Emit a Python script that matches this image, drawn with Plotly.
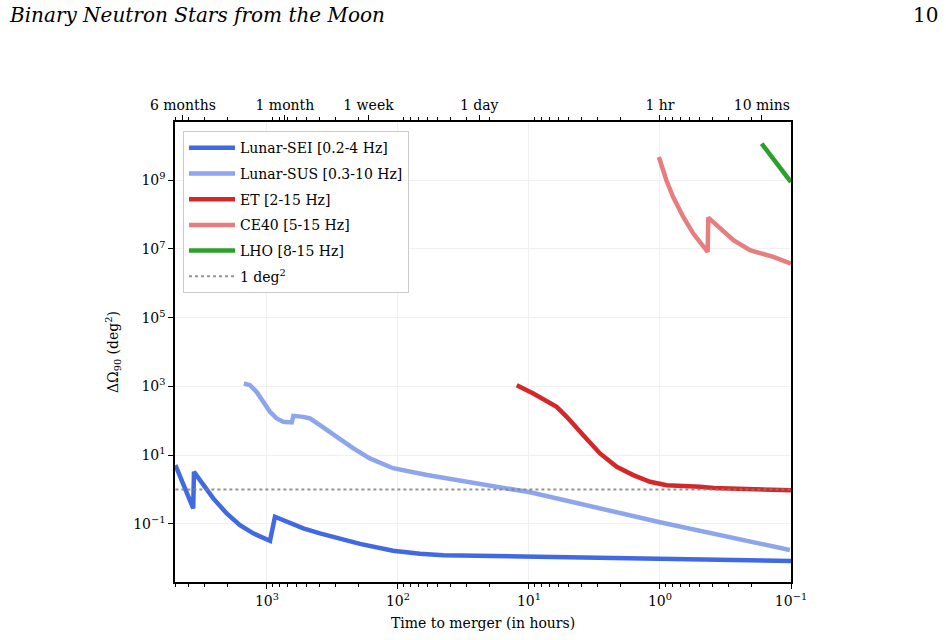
import plotly.graph_objects as go

# ---- data (time to merger in hours, sky area in deg^2) ----
sei_t = [5000, 4355, 3656, 3608, 3062, 2570, 2031, 1607, 1273, 948, 869, 708, 528, 394, 294,
         195, 109, 68, 45, 1, 0.1]
sei_a = [5.12, 1.34, 0.283, 3.27, 1.34, 0.551, 0.202, 0.0923, 0.053, 0.0323, 0.161, 0.115, 0.074,
         0.053, 0.0394, 0.0263, 0.0166, 0.0135, 0.0123, 0.0093, 0.0083]

sus_t = [1500, 1349, 1199, 1067, 948, 843, 751, 647, 629, 528, 470, 394, 294, 219, 164, 109,
         60, 33.6, 14, 9.8, 1, 0.102]
sus_a = [1213, 1084, 692, 354, 181.5, 116.7, 92.9, 89.3, 138.7, 129.7, 116.7, 74.5, 34.0, 15.7,
         8.02, 4.17, 2.63, 1.86, 1.10, 0.83, 0.112, 0.0174]

et_t = [12.4, 9.27, 6.15, 5.15, 3.85, 2.87, 2.14, 1.60, 1.19, 0.889, 0.495, 0.39, 0.22, 0.1]
et_a = [1084, 622, 254, 130, 38.1, 11.2, 4.57, 2.63, 1.68, 1.34, 1.20, 1.10, 1.03, 0.96]

ce_t = [1.02, 0.894, 0.793, 0.664, 0.557, 0.467, 0.4325, 0.428, 0.348, 0.275, 0.2055, 0.1365, 0.1]
ce_a = [4.70e9, 9.86e8, 3.23e8, 8.45e7, 2.79e7, 1.27e7, 8.13e6, 8.13e7, 3.89e7, 1.78e7, 9.1e6,
        5.82e6, 3.74e6]

lho_t = [0.1675, 0.130, 0.1]
lho_a = [1.15e10, 3.23e9, 8.8e8]

ref_t = [5000, 0.1]
ref_a = [1, 1]

bottom_tickvals = [1000, 100, 10, 1, 0.1]
bottom_ticktext = ["10<sup>3</sup>", "10<sup>2</sup>", "10<sup>1</sup>", "10<sup>0</sup>", "10<sup>\u22121</sup>"]
y_tickvals = [0.1, 10, 1e3, 1e5, 1e7, 1e9]
y_ticktext = ["10<sup>\u22121</sup>", "10<sup>1</sup>", "10<sup>3</sup>", "10<sup>5</sup>", "10<sup>7</sup>", "10<sup>9</sup>"]
top_tickvals = [4380, 730, 168, 24, 1, 1 / 6]
top_ticktext = ["6 months", "1 month", "1 week", "1 day", "1 hr", "10 mins"]

minor_vals = [m * 10 ** e for e in range(-1, 4) for m in range(2, 10) if m * 10 ** e <= 5000]

FONT = "DejaVu Serif"

fig = go.Figure()
series = [
    (sei_t, sei_a, "Lunar-SEI [0.2-4 Hz]", "#4169E1"),
    (sus_t, sus_a, "Lunar-SUS [0.3-10 Hz]", "#8DA5ED"),
    (et_t, et_a, "ET [2-15 Hz]", "#D62728"),
    (ce_t, ce_a, "CE40 [5-15 Hz]", "#E67D7E"),
    (lho_t, lho_a, "LHO [8-15 Hz]", "#2CA02C"),
]
for t, a, name, col in series:
    fig.add_trace(go.Scatter(x=t, y=a, mode="lines", name=name, legendgroup=name,
                             line=dict(color=col, width=4.5)))
fig.add_trace(go.Scatter(x=ref_t, y=ref_a, mode="lines", name="1 deg<sup>2</sup>", legendgroup="ref",
                         line=dict(color="rgba(128,128,128,0.85)", width=2, dash="dot")))
# dummy trace to bind the top axis
fig.add_trace(go.Scatter(x=ref_t, y=ref_a, xaxis="x2", mode="lines", opacity=0,
                         showlegend=False, hoverinfo="skip"))

fig.update_layout(
    width=946, height=640,
    margin=dict(l=175, r=155, t=122, b=58),
    paper_bgcolor="white", plot_bgcolor="white",
    font=dict(family=FONT, size=14, color="black"),
    showlegend=True,
    legend=dict(x=0.013, y=0.98, xanchor="left", yanchor="top",
                bgcolor="white", bordercolor="#cccccc", borderwidth=1,
                font=dict(family=FONT, size=14), itemwidth=46, tracegroupgap=4.5),
    xaxis=dict(type="log", range=[3.702, -1], showline=True, linecolor="black", linewidth=1.5,
               mirror=False, ticks="outside", ticklen=5, tickwidth=1, tickcolor="black",
               tickmode="array", tickvals=bottom_tickvals, ticktext=bottom_ticktext,
               showgrid=True, gridcolor="#f0f0f0", gridwidth=1, zeroline=False,
               minor=dict(ticks="outside", ticklen=3, tickcolor="black", tickmode="array",
                          tickvals=minor_vals, showgrid=False)),
    xaxis2=dict(type="log", range=[3.702, -1], overlaying="x", side="top", anchor="y",
                showline=True, linecolor="black", linewidth=1.5,
                ticks="outside", ticklen=5, tickcolor="black",
                tickmode="array", tickvals=top_tickvals, ticktext=top_ticktext,
                showgrid=False, zeroline=False,
                minor=dict(ticks="outside", ticklen=3, tickcolor="black", tickmode="array",
                           tickvals=minor_vals, showgrid=False)),
    yaxis=dict(type="log", range=[-2.69, 10.69], showline=True, linecolor="black", linewidth=1.5,
               mirror=True, ticks="outside", ticklen=5, tickcolor="black",
               tickmode="array", tickvals=y_tickvals, ticktext=y_ticktext,
               showgrid=True, gridcolor="#f0f0f0", gridwidth=1, zeroline=False),
    annotations=[
        dict(text="<i>Binary Neutron Stars from the Moon</i>", xref="paper", yref="paper",
             x=-0.2727, y=1.2326, xanchor="left", yanchor="middle", showarrow=False,
             font=dict(family=FONT, size=20)),
        dict(text="10", xref="paper", yref="paper", x=1.2419, y=1.2326,
             xanchor="right", yanchor="middle", showarrow=False, font=dict(family=FONT, size=20)),
        dict(text="Time to merger (in hours)", xref="paper", yref="paper", x=0.5, y=-0.0891,
             xanchor="center", yanchor="middle", showarrow=False, font=dict(family=FONT, size=14)),
        dict(text="\u0394\u03a9<sub>90</sub> (deg<sup>2</sup>)", xref="paper", yref="paper",
             x=-0.1006, y=0.5, xanchor="center", yanchor="middle", textangle=-90,
             showarrow=False, font=dict(family=FONT, size=14)),
    ],
)

fig.write_html("out.html")
